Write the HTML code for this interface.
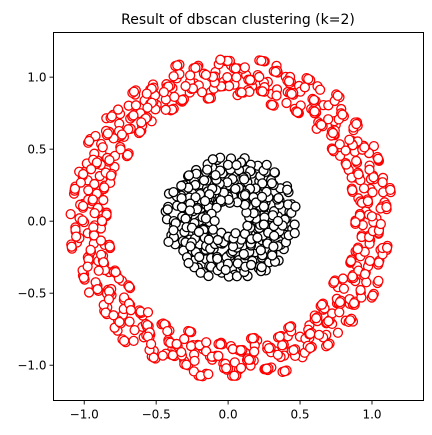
<!DOCTYPE html>
<html><head><meta charset="utf-8"><style>
body{margin:0;background:#fff;}
svg{display:block;font-family:"DejaVu Sans","Liberation Sans",sans-serif;}
</style></head><body>
<svg id="chart" width="432" height="435" viewBox="0 0 432 435" xmlns="http://www.w3.org/2000/svg">
<rect x="0" y="0" width="432" height="435" fill="#fff"/>
<text x="238" y="24" text-anchor="middle" font-size="14" fill="#000">Result of dbscan clustering (k=2)</text>
<g id="pts"></g>
<rect x="53.5" y="32.5" width="370" height="368" fill="none" stroke="#000" stroke-width="1"/>
<g id="axes"></g>
</svg>
<script>
const xTicks=[-1.0,-0.5,0.0,0.5,1.0];
const yTicks=[1.0,0.5,0.0,-0.5,-1.0];
const xTickLabels=["\u22121.0","\u22120.5","0.0","0.5","1.0"];
const yTickLabels=["1.0","0.5","0.0","\u22120.5","\u22121.0"];
const ringAngle=[0,3,6,9,12,15,18,21,24,27,30,33,36,39,42,45,48,51,54,57,60,63,66,69,72,75,78,81,84,87,90,93,96,99,102,105,108,111,114,117,120,123,126,129,132,135,138,141,144,147,150,153,156,159,162,165,168,171,174,177,180,183,186,189,192,195,198,201,204,207,210,213,216,219,222,225,228,231,234,237,240,243,246,249,252,255,258,261,264,267,270,273,276,279,282,285,288,291,294,297,300,303,306,309,312,315,318,321,324,327,330,333,336,339,342,345,348,351,354,357,
1.5,4.5,7.5,10.5,13.5,16.5,19.5,22.5,25.5,28.5,31.5,34.5,37.5,40.5,43.5,46.5,49.5,52.5,55.5,58.5,61.5,64.5,67.5,70.5,73.5,76.5,79.5,82.5,85.5,88.5,91.5,94.5,97.5,100.5,103.5,106.5,109.5,112.5,115.5,118.5,121.5,124.5,127.5,130.5,133.5,136.5,139.5,142.5,145.5,148.5,151.5,154.5,157.5,160.5,163.5,166.5,169.5,172.5,175.5,178.5,181.5,184.5,187.5,190.5,193.5,196.5,199.5,202.5,205.5,208.5,211.5,214.5,217.5,220.5,223.5,226.5,229.5,232.5,235.5,238.5,241.5,244.5,247.5,250.5,253.5,256.5,259.5,262.5,265.5,268.5,271.5,274.5,277.5,280.5,283.5,286.5,289.5,292.5,295.5,298.5,301.5,304.5,307.5,310.5,313.5,316.5,319.5,322.5,325.5,328.5,331.5,334.5,337.5,340.5,343.5,346.5,349.5,352.5,355.5,358.5,
0.8,3.8,6.8,9.8,12.8,15.8,18.8,21.8,24.8,27.8,30.8,33.8,36.8,39.8,42.8,45.8,48.8,51.8,54.8,57.8,60.8,63.8,66.8,69.8,72.8,75.8,78.8,81.8,84.8,87.8,90.8,93.8,96.8,99.8,102.8,105.8,108.8,111.8,114.8,117.8,120.8,123.8,126.8,129.8,132.8,135.8,138.8,141.8,144.8,147.8,150.8,153.8,156.8,159.8,162.8,165.8,168.8,171.8,174.8,177.8,180.8,183.8,186.8,189.8,192.8,195.8,198.8,201.8,204.8,207.8,210.8,213.8,216.8,219.8,222.8,225.8,228.8,231.8,234.8,237.8,240.8,243.8,246.8,249.8,252.8,255.8,258.8,261.8,264.8,267.8,270.8,273.8,276.8,279.8,282.8,285.8,288.8,291.8,294.8,297.8,300.8,303.8,306.8,309.8,312.8,315.8,318.8,321.8,324.8,327.8,330.8,333.8,336.8,339.8,342.8,345.8,348.8,351.8,354.8,357.8];
const ringRadius=[1.02,0.95,1.08,0.91,1.00,1.10,0.93,1.04,0.97,1.12,0.89,1.01,1.06,0.94,0.99,1.09,0.92,1.03,0.96,1.11,0.90,1.05,0.98,1.07,0.93,1.00,1.13,0.95,1.02,0.88,1.08,0.97,1.04,0.91,1.10,0.99,0.94,1.06,1.01,0.92,1.09,0.96,1.03,0.89,1.07,1.00,0.95,1.12,0.98,0.93,1.05,1.02,0.90,1.08,0.97,1.04,0.94,1.11,0.99,0.92,
1.06,0.96,1.01,1.09,0.91,1.03,0.98,1.10,0.94,1.05,0.89,1.00,1.07,0.95,1.02,1.12,0.93,0.99,1.04,0.90,1.08,0.97,1.01,0.92,1.06,1.00,0.95,1.11,0.98,1.03,0.91,1.07,0.96,1.02,0.89,1.09,0.99,1.04,0.93,1.10,0.97,1.01,0.94,1.06,1.00,0.92,1.08,0.96,1.03,0.90,1.05,0.98,1.12,0.95,1.02,0.91,1.07,0.99,1.04,0.93,
0.97,1.06,0.92,1.01,1.09,0.95,1.03,0.90,1.07,0.99,1.04,0.93,1.11,0.96,1.00,0.88,1.05,0.98,1.10,0.94,1.02,0.91,1.08,0.97,1.12,0.99,1.03,0.92,1.06,0.95,1.00,1.09,0.93,1.04,0.97,1.01,1.08,0.90,1.05,0.96,1.02,0.94,1.10,0.98,0.91,1.07,1.03,0.95,1.00,1.11,0.93,1.06,0.99,1.04,0.89,1.08,0.96,1.01,0.94,1.12,
1.03,0.92,1.07,0.98,1.01,0.94,1.10,0.96,1.05,0.90,1.02,1.08,0.95,0.99,1.12,0.93,1.04,0.97,1.00,1.09,0.91,1.06,0.98,1.03,0.94,1.11,0.96,1.01,0.89,1.07,1.02,0.95,1.05,0.92,1.10,0.99,1.04,0.97,0.93,1.08,1.00,0.96,1.06,0.91,1.03,0.98,1.12,0.94,1.01,1.07,0.90,1.05,0.97,1.02,0.95,1.09,0.99,0.93,1.04,1.00,
0.99,1.05,0.93,1.08,0.96,1.02,0.90,1.11,0.97,1.04,0.94,1.00,1.07,0.92,1.03,0.98,1.10,0.95,1.01,0.89,1.06,0.99,1.04,0.93,1.09,0.96,1.02,0.91,1.07,1.00,0.94,1.12,0.97,1.03,0.92,1.05,0.99,1.08,0.95,1.01,0.90,1.06,0.98,1.04,0.93,1.10,0.96,1.00,1.07,0.92,1.03,0.97,1.05,0.94,1.11,0.99,1.02,0.91,1.06,0.96,
1.04,0.97,1.09,0.93,1.01,0.95,1.06,1.00,0.91,1.12,0.98,1.03,0.94,1.07,0.96,1.02,0.89,1.10,0.99,1.05,0.92,1.08,0.97,1.01,0.95,1.04,0.90,1.11,0.98,1.03,0.93,1.06,1.00,0.96,1.09,0.94,1.02,0.97,1.07,0.91,1.05,0.99,1.03,0.95,1.10,0.92,1.01,0.98,1.06,0.94,1.04,0.96,1.12,0.90,1.02,0.97,1.08,0.93,1.00,1.05];
const ringRadiusB=[0.91,1.09,0.97,1.13,0.88,1.04,0.95,1.11,0.90,1.06,1.00,0.87,1.10,0.94,1.07,0.92,1.14,0.96,1.02,0.89,1.12,0.98,1.05,0.86,1.08,0.93,1.13,0.99,0.90,1.06,
1.11,0.94,1.01,0.87,1.09,0.96,1.14,0.91,1.03,0.88,1.07,0.99,1.12,0.93,1.00,0.89,1.10,0.97,1.05,0.86,1.13,0.95,1.02,0.90,1.08,0.92,1.11,0.98,1.04,0.88];
const innerAngle=[0,5,10,14,19,24,29,33,38,43,48,52,57,62,67,71,76,81,86,90,95,100,105,109,114,119,124,128,133,138,143,147,152,157,162,166,171,176,181,185,190,195,200,204,209,214,219,223,228,233,238,242,247,252,257,261,266,271,276,280,285,290,295,299,304,309,314,318,323,328,333,337,342,347,352,356,
2,7,12,17,21,26,31,36,40,45,50,55,59,64,69,74,78,83,88,93,97,102,107,112,116,121,126,131,135,140,145,150,154,159,164,169,173,178,183,188,192,197,202,207,211,216,221,226,230,235,240,245,249,254,259,264,268,273,278,283,287,292,297,302,306,311,316,321,325,330,335,340,344,349,354,359,
3,11,22,34,46,58,70,82,94,106,118,130,142,154,166,178,190,202,214,226,238,250,262,274,286,298,310,322,334,346];
const innerRadius=[0.38,0.22,0.31,0.42,0.18,0.35,0.27,0.40,0.21,0.33,0.44,0.25,0.37,0.19,0.30,0.41,0.23,0.36,0.28,0.43,0.20,0.34,0.26,0.39,0.17,0.32,0.42,0.24,0.37,0.29,0.40,0.21,0.33,0.45,0.26,0.38,0.19,0.31,0.43,0.24,0.35,0.28,0.41,0.20,0.33,0.39,0.25,0.36,0.18,0.30,0.42,0.27,0.38,0.22,0.34,0.40,0.29,0.37,0.21,0.32,0.43,0.26,0.35,0.19,0.31,0.41,0.24,0.38,0.28,0.42,0.20,0.33,0.39,0.25,0.36,0.30,
0.29,0.40,0.20,0.35,0.26,0.43,0.31,0.18,0.38,0.24,0.34,0.41,0.27,0.21,0.37,0.32,0.44,0.23,0.30,0.39,0.19,0.36,0.28,0.42,0.25,0.33,0.40,0.17,0.35,0.29,0.41,0.22,0.38,0.31,0.26,0.43,0.20,0.34,0.39,0.27,0.32,0.42,0.23,0.37,0.30,0.40,0.19,0.35,0.28,0.43,0.24,0.33,0.38,0.21,0.36,0.30,0.42,0.26,0.34,0.40,0.22,0.37,0.29,0.44,0.25,0.32,0.39,0.18,0.36,0.27,0.41,0.23,0.35,0.31,0.43,0.20,
0.16,0.44,0.15,0.23,0.17,0.45,0.16,0.24,0.15,0.44,0.18,0.25,0.16,0.43,0.17,0.22,0.15,0.45,0.18,0.24,0.16,0.44,0.17,0.23,0.15,0.43,0.18,0.25,0.16,0.44];
const innerRadiusB=[0.33,0.25,0.41,0.19,0.36,0.28,0.44,0.22,0.31,0.39,0.17,0.34,0.27,0.42,0.24,0.37,0.30,0.20,0.40,0.26,0.35,0.43,0.21,0.32,0.38,0.18,0.29,0.41,0.23,0.36];
const innerCenter=[0.02,0.02];

const NS="http://www.w3.org/2000/svg";
const X0=53.5,X1=423.5,Y0=32.5,Y1=400.5;
const xMin=-1.2135,xMax=1.358,yMin=-1.245,yMax=1.31;
function sx(v){return X0+(v-xMin)/(xMax-xMin)*(X1-X0);}
function sy(v){return Y1-(v-yMin)/(yMax-yMin)*(Y1-Y0);}
const pts=document.getElementById('pts');
function dot(x,y,color,name){
  const c=document.createElementNS(NS,'circle');
  c.setAttribute('cx',sx(x).toFixed(2));c.setAttribute('cy',sy(y).toFixed(2));
  c.setAttribute('r','4.5');c.setAttribute('fill','#fff');c.setAttribute('stroke',color);c.setAttribute('stroke-width','1.3');
  
  
  pts.appendChild(c);
}
function ringPt(angDeg,r){
  const a=angDeg*Math.PI/180,rr=1+(r-1)*1.05;
  dot(rr*Math.cos(a)*0.99+0.02,rr*Math.sin(a)*0.98+0.02,'red','outer-cluster-point');
}
for(let i=0;i<ringAngle.length;i++){
  ringPt(ringAngle[i],ringRadius[i%ringRadius.length]);
  ringPt(ringAngle[i]+0.4,ringRadiusB[i%ringRadiusB.length]);
}
function innerPt(angDeg,r){
  const a=angDeg*Math.PI/180,rr=0.11+(r-0.15)*1.12;
  dot(innerCenter[0]+rr*Math.cos(a)*1.05,innerCenter[1]+rr*Math.sin(a)*0.98,'#000','inner-cluster-point');
}
for(let i=0;i<innerAngle.length;i++){
  innerPt(innerAngle[i],innerRadius[i]);
  innerPt(innerAngle[i]+2.5,innerRadiusB[i%innerRadiusB.length]);
}
const ax=document.getElementById('axes');
function line(x1,y1,x2,y2,name){const l=document.createElementNS(NS,'line');l.setAttribute('x1',x1);l.setAttribute('y1',y1);l.setAttribute('x2',x2);l.setAttribute('y2',y2);l.setAttribute('stroke','#000');l.setAttribute('stroke-width','0.9');


ax.appendChild(l);}
function txt(x,y,s,anchor,name){const t=document.createElementNS(NS,'text');t.setAttribute('x',x);t.setAttribute('y',y);t.setAttribute('text-anchor',anchor);t.setAttribute('font-size','12');t.textContent=s;


ax.appendChild(t);}
xTicks.forEach((v,i)=>{const x=sx(v);line(x,Y1,x,Y1+4,'x-tick');txt(x,Y1+18,xTickLabels[i],'middle','x-tick-label');});
yTicks.forEach((v,i)=>{const y=sy(v);line(X0-4,y,X0,y,'y-tick');txt(X0-7,y+4.5,yTickLabels[i],'end','y-tick-label');});
</script>
</body></html>
